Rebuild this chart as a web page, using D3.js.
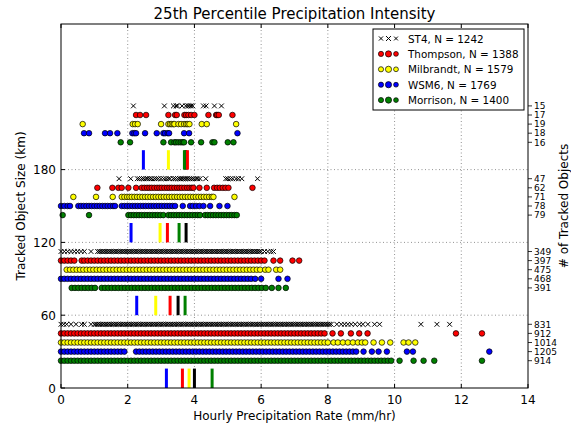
<!DOCTYPE html>
<html lang="en">
<head>
<meta charset="UTF-8">
<title>25th Percentile Precipitation Intensity</title>
<style>
  body { margin: 0; background: #fff; }
  svg { display: block; font-family: "DejaVu Sans", sans-serif; }
</style>
</head>
<body>
<div id="chart"></div>
<script src="https://d3js.org/d3.v7.min.js"></script>
<script>
// models, legend totals and the size bins (km) the objects are grouped into
const models = ['ST4', 'Thompson', 'Milbrandt', 'WSM6', 'Morrison'];
const totals = [1242, 1388, 1579, 1769, 1400];
const sizeBins = [0, 60, 120, 180];
const rowOffsets = [52.5, 45, 37.5, 30, 22.5];   // row height (km) inside a bin, per model
const medianHeight = 16;
const xTicks = [0, 2, 4, 6, 8, 10, 12, 14];
const yTicks = [0, 60, 120, 180];

// number of tracked objects, one row per size bin, in model order
const objectCounts = [
  [831, 912, 1014, 1205, 914],
  [349, 397, 475, 468, 391],
  [47, 62, 71, 78, 79],
  [15, 17, 19, 18, 16]
];

// 25th percentile rate (mm/hr) marked by the short bars, per bin, in model order
const medianRates = [
  [4.0, 3.64, 3.84, 3.16, 4.53],
  [3.51, 3.27, 2.84, 2.27, 3.72],
  [3.75, 3.19, 2.97, 2.10, 3.54],
  [3.74, 3.79, 3.22, 2.47, 3.70]
];

// per-object rates (mm/hr), one list per size bin
const st4Rates = [
  [0, 0.08, 0.17, 0.3, 0.45, 0.62, 0.7, 0.9,
   1.0, 1.05, 1.1, 1.15, 1.2, 1.25, 1.3, 1.35, 1.4, 1.45, 1.5, 1.55, 1.6, 1.65, 1.7, 1.75, 1.8, 1.85, 1.9, 1.95,
   2.0, 2.05, 2.1, 2.15, 2.2, 2.25, 2.3, 2.35, 2.4, 2.45, 2.5, 2.55, 2.6, 2.65, 2.7, 2.75, 2.8, 2.85, 2.9, 2.95,
   3.0, 3.05, 3.1, 3.15, 3.2, 3.25, 3.3, 3.35, 3.4, 3.45, 3.5, 3.55, 3.6, 3.65, 3.7, 3.75, 3.8, 3.85, 3.9, 3.95,
   4.0, 4.05, 4.1, 4.15, 4.2, 4.25, 4.3, 4.35, 4.4, 4.45, 4.5, 4.55, 4.6, 4.65, 4.7, 4.75, 4.8, 4.85, 4.9, 4.95,
   5.0, 5.05, 5.1, 5.15, 5.2, 5.25, 5.3, 5.35, 5.4, 5.45, 5.5, 5.55, 5.6, 5.65, 5.7, 5.75, 5.8, 5.85, 5.9, 5.95,
   6.0, 6.05, 6.1, 6.15, 6.2, 6.25, 6.3, 6.35, 6.4, 6.45, 6.5, 6.55, 6.6, 6.65, 6.7, 6.75, 6.8, 6.85, 6.9, 6.95,
   7.0, 7.05, 7.1, 7.15, 7.2, 7.25, 7.3, 7.35, 7.4, 7.45, 7.5, 7.55, 7.6, 7.65, 7.7, 7.75, 7.8, 7.85, 7.9, 7.95,
   8.0, 8.05, 8.1, 8.27, 8.4, 8.5, 8.6, 8.7, 8.82, 8.95, 9.05, 9.2, 9.4, 9.55, 10.79, 11.27, 11.65],
  [0, 0.1, 0.2, 0.3, 0.4, 0.5, 0.6, 0.7, 0.9,
   1.1, 1.15, 1.2, 1.25, 1.3, 1.35, 1.4, 1.45, 1.5, 1.55, 1.6, 1.65, 1.7, 1.75, 1.8, 1.85, 1.9, 1.95,
   2.0, 2.05, 2.1, 2.15, 2.2, 2.25, 2.3, 2.35, 2.4, 2.45, 2.5, 2.55, 2.6, 2.65, 2.7, 2.75, 2.8, 2.85, 2.9, 2.95,
   3.0, 3.05, 3.1, 3.15, 3.2, 3.25, 3.3, 3.35, 3.4, 3.45, 3.5, 3.55, 3.6, 3.65, 3.7, 3.75, 3.8, 3.85, 3.9, 3.95,
   4.0, 4.05, 4.1, 4.15, 4.2, 4.25, 4.3, 4.35, 4.4, 4.45, 4.5, 4.55, 4.6, 4.65, 4.7, 4.75, 4.8, 4.85, 4.9, 4.95,
   5.0, 5.05, 5.1, 5.15, 5.2, 5.25, 5.3, 5.35, 5.4, 5.45, 5.5, 5.55, 5.6, 5.65, 5.7, 5.75, 5.8, 5.85, 5.9, 5.95,
   6.0, 6.1, 6.2, 6.3, 6.37],
  [1.74, 2.09, 2.29, 2.35, 2.42, 2.48, 2.55, 2.6, 2.66, 2.72, 2.8, 2.86, 2.92, 3.0, 3.08, 3.15, 3.22, 3.27, 3.37, 3.43, 3.5, 3.56, 3.6, 3.65, 3.7, 3.75, 3.8, 3.86, 3.92, 3.98, 4.05, 4.1, 4.17, 4.34, 4.94, 5.0, 5.08, 5.15, 5.25, 5.32, 5.42, 5.89],
  [2.17, 3.10, 3.37, 3.45, 3.49, 3.63, 3.74, 3.8, 3.85, 3.9, 3.95, 4.27, 4.35, 4.60, 4.81]
];
const thompsonRates = [
  [0, 0.1, 0.2, 0.3, 0.4, 0.5, 0.6, 0.7, 0.8, 0.9, 1.0, 1.1, 1.2, 1.3, 1.4, 1.5, 1.6, 1.7, 1.8, 1.9, 2.0, 2.1, 2.2, 2.3, 2.4, 2.5, 2.6, 2.7, 2.8, 2.9, 3.0, 3.1, 3.2, 3.3, 3.4, 3.5, 3.6, 3.7, 3.8, 3.9, 4.0, 4.1, 4.2, 4.3, 4.4, 4.5, 4.6, 4.7, 4.8, 4.9, 5.0, 5.1, 5.2, 5.3, 5.4, 5.5, 5.6, 5.7, 5.8, 5.9, 6.0, 6.1, 6.2, 6.3, 6.4, 6.5, 6.6, 6.7, 6.8, 6.9, 7.0, 7.1, 7.2, 7.3, 7.4, 7.5, 7.6, 7.7, 7.8, 7.9, 8.14, 8.39, 8.69, 8.94, 9.19, 11.84, 12.62],
  [0, 0.1, 0.2, 0.3, 0.4, 0.62, 0.7, 0.8, 0.9, 1.0, 1.1, 1.2, 1.3, 1.4, 1.5, 1.6, 1.7, 1.8, 1.9, 2.0, 2.1, 2.2, 2.3, 2.4, 2.5, 2.6, 2.7, 2.8, 2.9, 3.0, 3.1, 3.2, 3.3, 3.4, 3.5, 3.6, 3.7, 3.8, 3.9, 4.0, 4.1, 4.2, 4.3, 4.4, 4.5, 4.6, 4.7, 4.8, 4.9, 5.0, 5.1, 5.2, 5.3, 5.4, 5.5, 5.6, 5.7, 5.8, 5.9, 6.0, 6.1, 6.37, 6.57, 6.94, 7.14],
  [1.09, 1.54, 1.72, 1.82, 2.02, 2.25, 2.42, 2.5, 2.58, 2.65, 2.72, 2.8, 2.88, 2.95, 3.02, 3.1, 3.18, 3.25, 3.32, 3.4, 3.48, 3.55, 3.62, 3.7, 3.78, 3.85, 3.92, 3.97, 4.15, 4.37, 4.59, 4.68, 4.76, 4.85, 4.93, 5.02, 5.74],
  [2.25, 2.37, 2.55, 3.22, 3.42, 3.47, 3.70, 3.75, 3.82, 3.90, 4.0, 4.42, 4.65, 4.68, 4.73, 5.14]
];
const milbrandtRates = [
  [0, 0.1, 0.2, 0.3, 0.4, 0.5, 0.6, 0.7, 0.8, 0.9, 1.0, 1.1, 1.2, 1.3, 1.4, 1.5, 1.6, 1.7, 1.8, 1.9, 2.0, 2.1, 2.2, 2.3, 2.4, 2.5, 2.6, 2.7, 2.8, 2.9, 3.0, 3.1, 3.2, 3.3, 3.4, 3.5, 3.6, 3.7, 3.8, 3.9, 4.0, 4.1, 4.2, 4.3, 4.4, 4.5, 4.6, 4.7, 4.8, 4.9, 5.0, 5.1, 5.2, 5.3, 5.4, 5.5, 5.6, 5.7, 5.8, 5.9, 6.0, 6.1, 6.2, 6.3, 6.4, 6.5, 6.6, 6.7, 6.8, 6.9, 7.0, 7.1, 7.2, 7.3, 7.4, 7.5, 7.6, 7.7, 7.8, 7.9, 8.0, 8.17, 8.3, 8.45, 8.6, 8.75, 8.9, 9.02, 9.12, 9.37, 9.62, 9.87, 10.27, 10.42, 10.62],
  [0.17, 0.27, 0.37, 0.47, 0.57, 0.67, 0.77, 0.87, 0.97, 1.07, 1.17, 1.27, 1.37, 1.47, 1.57, 1.67, 1.77, 1.87, 1.97, 2.07, 2.17, 2.27, 2.37, 2.47, 2.57, 2.67, 2.77, 2.87, 2.97, 3.07, 3.17, 3.27, 3.37, 3.47, 3.57, 3.67, 3.77, 3.87, 3.97, 4.07, 4.17, 4.27, 4.37, 4.47, 4.57, 4.67, 4.77, 4.87, 4.97, 5.07, 5.17, 5.27, 5.37, 5.47, 5.57, 5.67, 5.77, 5.87, 5.97, 6.12, 6.22, 6.45, 6.57],
  [0.37, 1.05, 1.55, 1.82, 1.9, 1.98, 2.05, 2.12, 2.2, 2.28, 2.36, 2.44, 2.52, 2.6, 2.68, 2.76, 2.84, 2.92, 3.0, 3.08, 3.16, 3.24, 3.32, 3.4, 3.48, 3.56, 3.64, 3.72, 3.8, 3.88, 3.96, 4.04, 4.12, 4.2, 4.28, 4.36, 4.44, 4.52, 4.57, 5.2],
  [0.65, 2.15, 2.22, 2.30, 3.0, 3.22, 3.27, 3.32, 3.37, 3.40, 3.52, 3.60, 3.69, 3.75, 3.80, 3.85, 4.22, 4.37, 5.25]
];
const wsm6Rates = [
  [0, 0.1, 0.2, 0.3, 0.4, 0.5, 0.6, 0.7, 0.8, 0.9, 1.0, 1.1, 1.2, 1.3, 1.4, 1.5, 1.6, 1.7, 1.8, 1.9, 2.25, 2.35, 2.45, 2.55, 2.65, 2.75, 2.85, 2.95, 3.05, 3.15, 3.25, 3.35, 3.45, 3.55, 3.65, 3.75, 3.85, 3.95, 4.05, 4.15, 4.25, 4.35, 4.45, 4.55, 4.65, 4.75, 4.85, 4.95, 5.05, 5.15, 5.25, 5.35, 5.45, 5.55, 5.65, 5.75, 5.85, 5.95, 6.05, 6.15, 6.25, 6.35, 6.45, 6.55, 6.65, 6.75, 6.85, 6.95, 7.05, 7.15, 7.25, 7.35, 7.45, 7.55, 7.65, 7.75, 7.85, 7.95, 8.05, 8.15, 8.25, 8.35, 8.45, 8.55, 8.65, 8.75, 8.85, 9.07, 9.32, 9.52, 9.77, 10.37, 10.55, 12.84],
  [0, 0.1, 0.2, 0.3, 0.4, 0.5, 0.6, 0.7, 0.8, 0.9, 1.0, 1.1, 1.2, 1.3, 1.4, 1.5, 1.6, 1.7, 1.8, 1.9, 2.0, 2.1, 2.2, 2.3, 2.4, 2.5, 2.6, 2.7, 2.8, 2.9, 3.0, 3.1, 3.2, 3.3, 3.4, 3.5, 3.6, 3.7, 3.8, 3.9, 4.0, 4.1, 4.2, 4.3, 4.4, 4.5, 4.6, 4.7, 4.8, 4.9, 5.0, 5.1, 5.2, 5.3, 5.4, 5.5, 5.6, 5.7, 5.82, 6.0, 6.52, 6.79],
  [0, 0.1, 0.2, 0.27, 0.52, 0.6, 0.68, 0.76, 0.84, 0.92, 1.0, 1.08, 1.16, 1.24, 1.32, 1.4, 1.48, 1.56, 1.62, 1.82, 1.9, 1.98, 2.06, 2.14, 2.22, 2.3, 2.38, 2.46, 2.54, 2.62, 2.7, 2.78, 2.86, 2.94, 3.02, 3.1, 3.18, 3.26, 3.34, 3.42, 3.65, 3.87, 3.95, 4.05, 4.15, 4.27, 4.47, 4.75, 4.99],
  [0.69, 0.84, 1.32, 1.47, 1.69, 2.14, 2.20, 2.25, 2.52, 2.87, 3.07, 3.12, 3.20, 3.24, 3.69, 3.84, 5.29]
];
const morrisonRates = [
  [0, 0.1, 0.2, 0.3, 0.4, 0.5, 0.6, 0.7, 0.8, 0.9, 1.0, 1.1, 1.2, 1.3, 1.4, 1.5, 1.6, 1.7, 1.8, 1.9, 2.0, 2.1, 2.2, 2.3, 2.4, 2.5, 2.6, 2.7, 2.8, 2.9, 3.0, 3.1, 3.2, 3.3, 3.4, 3.5, 3.6, 3.7, 3.8, 3.9, 4.0, 4.1, 4.2, 4.3, 4.4, 4.5, 4.6, 4.7, 4.8, 4.9, 5.0, 5.1, 5.2, 5.3, 5.4, 5.5, 5.6, 5.7, 5.8, 5.9, 6.0, 6.1, 6.2, 6.3, 6.4, 6.5, 6.6, 6.7, 6.8, 6.9, 7.0, 7.1, 7.2, 7.3, 7.4, 7.5, 7.6, 7.7, 7.8, 7.9, 8.0, 8.1, 8.2, 8.3, 8.4, 8.5, 8.6, 8.7, 8.8, 8.9, 9.0, 9.1, 9.2, 9.3, 9.4, 9.5, 9.6, 9.7, 9.8, 9.9, 10.15, 10.57, 10.87, 11.19, 12.62],
  [0.32, 0.42, 0.52, 0.62, 0.72, 0.82, 0.92, 1.02, 1.22, 1.32, 1.42, 1.52, 1.62, 1.72, 1.82, 1.92, 2.02, 2.12, 2.22, 2.32, 2.42, 2.52, 2.62, 2.72, 2.82, 2.92, 3.02, 3.12, 3.22, 3.32, 3.42, 3.52, 3.62, 3.72, 3.82, 3.92, 4.02, 4.12, 4.22, 4.32, 4.42, 4.52, 4.62, 4.72, 4.82, 4.92, 5.02, 5.12, 5.22, 5.32, 5.42, 5.52, 5.62, 5.72, 5.82, 5.92, 6.02, 6.14, 6.32, 6.52, 6.74],
  [0.05, 0.84, 2.02, 2.1, 2.18, 2.26, 2.34, 2.42, 2.5, 2.58, 2.66, 2.74, 2.82, 2.9, 2.98, 3.07, 3.22, 3.3, 3.38, 3.46, 3.54, 3.62, 3.7, 3.78, 3.86, 3.94, 4.02, 4.1, 4.17, 4.32, 4.4, 4.48, 4.56, 4.64, 4.72, 4.8, 4.88, 4.96, 5.04, 5.12, 5.2, 5.27],
  [1.79, 2.07, 3.07, 3.30, 3.40, 3.45, 3.52, 3.59, 3.65, 3.69, 3.90, 4.20, 4.54, 4.60, 5.0, 5.17]
];

const ratesByModel = [st4Rates, thompsonRates, milbrandtRates, wsm6Rates, morrisonRates];
const colors = ['#000000', '#ff0000', '#ffff00', '#0000ff', '#008000'];

const width = 571, height = 426;
const margin = {top: 24, right: 43, bottom: 38, left: 61};

const svg = d3.select('#chart').append('svg')
  .attr('width', width)
  .attr('height', height);

const x = d3.scaleLinear().domain([0, 14]).range([margin.left, width - margin.right]);
const y = d3.scaleLinear().domain([0, 300]).range([height - margin.bottom, margin.top]);

// grid
const grid = svg.append('g')
  .attr('stroke', '#777')
  .attr('stroke-width', 0.8)
  .attr('stroke-dasharray', '1,2.5');
grid.selectAll('.gx').data(xTicks.slice(1, -1)).join('line')
  .attr('x1', d => x(d)).attr('x2', d => x(d))
  .attr('y1', y(0)).attr('y2', y(300));
grid.selectAll('.gy').data(yTicks.slice(1)).join('line')
  .attr('x1', x(0)).attr('x2', x(14))
  .attr('y1', d => y(d)).attr('y2', d => y(d));

// per-object points and percentile bars
const crossPath = s => `M${-s},${-s}L${s},${s}M${-s},${s}L${s},${-s}`;
const marks = svg.append('g');

sizeBins.forEach((bin, b) => {
  models.forEach((m, i) => {
    const rowY = y(bin + rowOffsets[i]);
    const pts = ratesByModel[i][b];
    if (i === 0) {
      marks.append('g').selectAll('path').data(pts).join('path')
        .attr('transform', d => `translate(${x(d)},${rowY})`)
        .attr('d', crossPath(2.4))
        .attr('stroke', '#000')
        .attr('stroke-width', 1)
        .attr('fill', 'none');
    } else {
      marks.append('g').selectAll('circle').data(pts).join('circle')
        .attr('cx', d => x(d))
        .attr('cy', rowY)
        .attr('r', 2.8)
        .attr('fill', colors[i])
        .attr('stroke', '#000')
        .attr('stroke-width', 0.7);
    }
  });
  models.forEach((m, i) => {
    marks.append('line')
      .attr('x1', x(medianRates[b][i])).attr('x2', x(medianRates[b][i]))
      .attr('y1', y(bin)).attr('y2', y(bin + medianHeight))
      .attr('stroke', colors[i])
      .attr('stroke-width', 3);
  });
});

// frame
svg.append('rect')
  .attr('x', x(0)).attr('y', y(300))
  .attr('width', x(14) - x(0)).attr('height', y(0) - y(300))
  .attr('fill', 'none')
  .attr('stroke', '#000')
  .attr('stroke-width', 1);

// x axis: inward ticks on bottom and top
const xAxis = svg.append('g');
xTicks.forEach(t => {
  xAxis.append('line').attr('x1', x(t)).attr('x2', x(t))
    .attr('y1', y(0)).attr('y2', y(0) - 4).attr('stroke', '#000');
  xAxis.append('line').attr('x1', x(t)).attr('x2', x(t))
    .attr('y1', y(300)).attr('y2', y(300) + 4).attr('stroke', '#000');
  xAxis.append('text').attr('x', x(t)).attr('y', y(0) + 15.5)
    .attr('text-anchor', 'middle').attr('font-size', 12).text(t);
});

// left y axis
const yAxis = svg.append('g');
yTicks.forEach(t => {
  yAxis.append('line').attr('x1', x(0)).attr('x2', x(0) + 4)
    .attr('y1', y(t)).attr('y2', y(t)).attr('stroke', '#000');
  yAxis.append('text').attr('x', x(0) - 5).attr('y', y(t) + 4.5)
    .attr('text-anchor', 'end').attr('font-size', 12).text(t);
});

// right axis with object counts
const rAxis = svg.append('g');
sizeBins.forEach((bin, b) => {
  models.forEach((m, i) => {
    const ty = y(bin + rowOffsets[i]);
    rAxis.append('line').attr('x1', x(14)).attr('x2', x(14) + 4)
      .attr('y1', ty).attr('y2', ty).attr('stroke', '#000').attr('stroke-width', 0.8);
    rAxis.append('text').attr('x', x(14) + 6).attr('y', ty + 3.2)
      .attr('font-size', 9).text(objectCounts[b][i]);
  });
});

// titles
svg.append('text').attr('x', (x(0) + x(14)) / 2).attr('y', 19)
  .attr('text-anchor', 'middle').attr('font-size', 15)
  .text('25th Percentile Precipitation Intensity');
svg.append('text').attr('x', (x(0) + x(14)) / 2).attr('y', 420)
  .attr('text-anchor', 'middle').attr('font-size', 12)
  .text('Hourly Precipitation Rate (mm/hr)');
svg.append('text')
  .attr('transform', `translate(25,${(y(0) + y(300)) / 2}) rotate(-90)`)
  .attr('text-anchor', 'middle').attr('font-size', 12)
  .text('Tracked Object Size (km)');
svg.append('text')
  .attr('transform', `translate(568,${(y(0) + y(300)) / 2}) rotate(-90)`)
  .attr('text-anchor', 'middle').attr('font-size', 12)
  .text('# of Tracked Objects');

// legend
const legend = svg.append('g');
legend.append('rect')
  .attr('x', 373).attr('y', 29).attr('width', 151).attr('height', 81)
  .attr('fill', '#fff').attr('stroke', '#000').attr('stroke-width', 1);
const legendSizes = [2.6, 3.1, 2.4];
models.forEach((m, i) => {
  const ly = 38.5 + i * 15.4;
  [381, 388.5, 396].forEach((lx, k) => {
    if (i === 0) {
      legend.append('path').attr('transform', `translate(${lx},${ly})`)
        .attr('d', crossPath(legendSizes[k] * 0.8))
        .attr('stroke', '#000').attr('stroke-width', 1).attr('fill', 'none');
    } else {
      legend.append('circle').attr('cx', lx).attr('cy', ly).attr('r', legendSizes[k])
        .attr('fill', colors[i]).attr('stroke', '#000').attr('stroke-width', 0.7);
    }
  });
  legend.append('text').attr('x', 408).attr('y', ly + 4)
    .attr('font-size', 10.4).text(`${m}, N = ${totals[i]}`);
});
</script>
</body>
</html>
